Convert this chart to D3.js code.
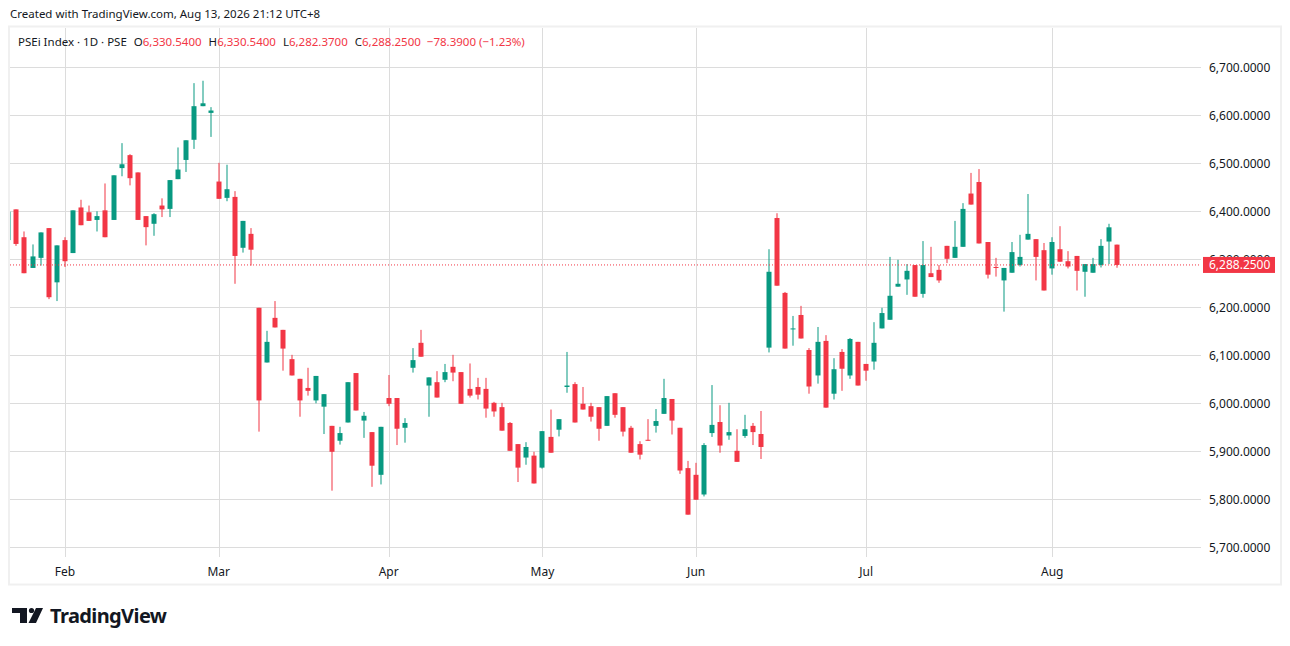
<!DOCTYPE html>
<html>
<head>
<meta charset="utf-8">
<script src="https://cdn.jsdelivr.net/npm/d3@7"></script>
<style>
  body { margin: 0; background: #fff; }
  text { font-family: "Noto Sans", "Liberation Sans", sans-serif; }
</style>
</head>
<body>
<div id="chart"></div>
<script>
// daily candles, PSEi, late Jan .. Aug 13
const opens = [6340, 6404, 6346, 6282, 6303, 6365, 6252, 6340, 6313, 6408, 6398, 6382, 6402, 6382, 6490, 6517, 6481, 6390, 6374, 6412,
  6405, 6467, 6507, 6549, 6619, 6605, 6462, 6428, 6430, 6324, 6353, 6199, 6085, 6178, 6153, 6092, 6051, 6032, 6006, 5993,
  5953, 5922, 5960, 6063, 5964, 5940, 5851, 6011, 6011, 5949, 6074, 6126, 6037, 6044, 6049, 6076, 6065, 6030, 6034, 6030,
  6001, 5992, 5959, 5915, 5887, 5891, 5866, 5930, 5945, 6034, 6040, 5999, 5994, 5992, 5953, 6021, 5992, 5949, 5915, 5924,
  5953, 5978, 6009, 5949, 5865, 5851, 5810, 5938, 5961, 5933, 5901, 5932, 5953, 5936, 6116, 6386, 6230, 6154, 6184, 6111,
  6058, 6130, 6020, 6107, 6058, 6128, 6082, 6087, 6156, 6174, 6243, 6258, 6288, 6228, 6271, 6278, 6328, 6303, 6326, 6437,
  6461, 6336, 6284, 6256, 6272, 6288, 6341, 6342, 6319, 6281, 6321, 6296, 6307, 6274, 6272, 6288, 6337, 6330.54];
const highs = [6400, 6404, 6358, 6331, 6356, 6365, 6329, 6346, 6402, 6424, 6412, 6400, 6458, 6475, 6542, 6519, 6481, 6390, 6396, 6427,
  6465, 6533, 6548, 6667, 6672, 6617, 6501, 6497, 6442, 6380, 6365, 6199, 6151, 6213, 6153, 6101, 6051, 6074, 6057, 6019,
  5953, 5951, 6044, 6063, 5982, 5940, 5951, 6059, 6011, 5969, 6115, 6153, 6054, 6067, 6082, 6101, 6065, 6083, 6053, 6053,
  6003, 6001, 5961, 5915, 5919, 5899, 5942, 5987, 5967, 6107, 6044, 6034, 6001, 5992, 6015, 6021, 5992, 5953, 5921, 5967,
  5988, 6051, 6009, 5949, 5880, 5876, 5917, 6038, 5996, 6001, 5946, 5976, 5959, 5984, 6321, 6396, 6232, 6182, 6203, 6115,
  6159, 6142, 6094, 6113, 6136, 6128, 6082, 6169, 6199, 6305, 6299, 6290, 6288, 6338, 6326, 6288, 6328, 6380, 6417, 6480,
  6488, 6336, 6303, 6282, 6336, 6351, 6436, 6342, 6334, 6346, 6369, 6317, 6307, 6290, 6303, 6342, 6374, 6330.54];
const lows = [6335, 6328, 6271, 6282, 6287, 6217, 6213, 6284, 6313, 6371, 6380, 6358, 6346, 6382, 6473, 6454, 6382, 6329, 6349, 6388,
  6388, 6467, 6482, 6530, 6619, 6555, 6426, 6421, 6249, 6314, 6287, 5941, 6085, 6158, 6068, 6058, 5972, 6016, 6000, 5936,
  5818, 5914, 5960, 5985, 5928, 5826, 5831, 5994, 5913, 5918, 6064, 6097, 5972, 6012, 6044, 6046, 5999, 6012, 6008, 5970,
  5972, 5943, 5901, 5836, 5872, 5833, 5864, 5897, 5931, 6022, 5960, 5987, 5962, 5922, 5953, 5970, 5931, 5897, 5883, 5922,
  5939, 5978, 5935, 5853, 5768, 5799, 5806, 5930, 5897, 5924, 5878, 5928, 5913, 5884, 6106, 6245, 6114, 6120, 6135, 6020,
  6041, 5991, 6008, 6026, 6051, 6037, 6047, 6070, 6156, 6174, 6243, 6226, 6222, 6220, 6263, 6251, 6292, 6303, 6326, 6414,
  6333, 6260, 6264, 6191, 6272, 6285, 6341, 6256, 6235, 6268, 6295, 6281, 6235, 6222, 6272, 6283, 6290, 6282.37];
const closes = [6399, 6332, 6271, 6306, 6356, 6221, 6329, 6296, 6402, 6371, 6380, 6390, 6346, 6475, 6498, 6469, 6382, 6367, 6394, 6404,
  6465, 6487, 6548, 6619, 6625, 6610, 6426, 6446, 6307, 6380, 6320, 6006, 6128, 6158, 6114, 6058, 6006, 6026, 6057, 6019,
  5899, 5938, 6044, 5985, 5974, 5870, 5951, 5999, 5947, 5959, 6090, 6097, 6054, 6012, 6065, 6064, 5999, 6016, 6018, 5989,
  5983, 5943, 5901, 5866, 5909, 5833, 5942, 5897, 5967, 6037, 5960, 5987, 5972, 5947, 6015, 5976, 5941, 5897, 5893, 5922,
  5963, 6011, 5964, 5860, 5768, 5799, 5913, 5955, 5912, 5940, 5878, 5946, 5940, 5909, 6274, 6245, 6114, 6156, 6135, 6035,
  6128, 5991, 6071, 6072, 6134, 6037, 6068, 6126, 6188, 6224, 6249, 6276, 6222, 6288, 6263, 6256, 6301, 6326, 6405, 6414,
  6333, 6268, 6283, 6282, 6315, 6305, 6353, 6305, 6235, 6336, 6295, 6285, 6276, 6290, 6290, 6328, 6366.64, 6288.25];

const monthLabels = ["Feb", "Mar", "Apr", "May", "Jun", "Jul", "Aug"];
const monthIdx = [7, 26, 47, 66, 85, 106, 129];
const priceTicks = [5700, 5800, 5900, 6000, 6100, 6200, 6300, 6400, 6500, 6600, 6700];

const W = 1290, H = 646;
const up = "#089981", down = "#f23645", ink = "#131722", grid = "#dcdcdc";
const plot = { left: 10, right: 1200, top: 28, bottom: 557 };

const svg = d3.select("#chart").append("svg")
  .attr("width", W)
  .attr("height", H);

const x = d3.scaleLinear().domain([0, 137]).range([8.3, 1117]);
const y = d3.scaleLinear().domain([5700, 6700]).range([547.3, 67.3]);
const fmt = d3.format(",.4f");

// title line
svg.append("text")
  .attr("x", 10).attr("y", 18)
  .attr("font-size", 11.5).attr("fill", ink)
  .text("Created with TradingView.com, Aug 13, 2026 21:12 UTC+8");

// frame
svg.append("rect")
  .attr("x", 9).attr("y", 26.5)
  .attr("width", 1272).attr("height", 558)
  .attr("fill", "#fff")
  .attr("stroke", "#f0f0f0").attr("stroke-width", 2);

// grid
svg.append("g").selectAll("line")
  .data(priceTicks)
  .join("line")
  .attr("x1", plot.left).attr("x2", plot.right + 1)
  .attr("y1", d => Math.round(y(d)) + 0.5).attr("y2", d => Math.round(y(d)) + 0.5)
  .attr("stroke", grid);

svg.append("g").selectAll("line")
  .data(monthIdx)
  .join("line")
  .attr("x1", d => Math.round(x(d)) + 0.5).attr("x2", d => Math.round(x(d)) + 0.5)
  .attr("y1", plot.top).attr("y2", plot.bottom)
  .attr("stroke", grid);

// price axis
svg.append("g").selectAll("text")
  .data(priceTicks)
  .join("text")
  .attr("x", 1209).attr("y", d => y(d))
  .attr("dy", "0.35em")
  .attr("font-size", 12).attr("fill", ink)
  .text(d => fmt(d));

// time axis
svg.append("g").selectAll("text")
  .data(monthIdx)
  .join("text")
  .attr("x", d => x(d)).attr("y", 576)
  .attr("text-anchor", "middle")
  .attr("font-size", 12).attr("fill", ink)
  .text((d, i) => monthLabels[i]);

// candles
svg.append("clipPath").attr("id", "clip")
  .append("rect")
  .attr("x", plot.left).attr("y", plot.top)
  .attr("width", plot.right - plot.left).attr("height", plot.bottom - plot.top);

const candles = d3.range(closes.length).map(i => ({
  i, o: opens[i], h: highs[i], l: lows[i], c: closes[i]
}));

const cg = svg.append("g").attr("clip-path", "url(#clip)");

const node = cg.selectAll(".candle")
  .data(candles)
  .join("g")
  .attr("class", "candle")
  .attr("fill", d => d.c >= d.o ? up : down);

node.append("rect")
  .attr("x", d => Math.round(x(d.i)) - 0.5)
  .attr("width", 1)
  .attr("y", d => y(d.h))
  .attr("height", d => Math.max(1, y(d.l) - y(d.h)));

node.append("rect")
  .attr("x", d => Math.round(x(d.i)) - 2.5)
  .attr("width", 5)
  .attr("y", d => y(Math.max(d.o, d.c)))
  .attr("height", d => Math.max(1, Math.abs(y(d.o) - y(d.c))));

// last price line + label
const last = closes[closes.length - 1];
svg.append("line")
  .attr("x1", plot.left).attr("x2", plot.right)
  .attr("y1", y(last)).attr("y2", y(last))
  .attr("stroke", down)
  .attr("stroke-dasharray", "1,2");

svg.append("rect")
  .attr("x", 1203).attr("y", y(last) - 8)
  .attr("width", 72).attr("height", 16)
  .attr("fill", down);

svg.append("text")
  .attr("x", 1209).attr("y", y(last))
  .attr("dy", "0.35em")
  .attr("font-size", 12).attr("fill", "#fff")
  .text(fmt(last));

// legend
const lg = svg.append("text")
  .attr("x", 18).attr("y", 46)
  .attr("font-size", 11.5).attr("fill", ink);
lg.append("tspan").text("PSEi Index · 1D · PSE");
const ohlc = [["O", opens], ["H", highs], ["L", lows], ["C", closes]];
ohlc.forEach(([k, arr]) => {
  lg.append("tspan").attr("dx", 7).text(k);
  lg.append("tspan").attr("fill", down).text(fmt(arr[arr.length - 1]));
});
const chg = last - closes[closes.length - 2];
lg.append("tspan").attr("dx", 6).attr("fill", down)
  .text(fmt(chg).replace("-", "\u2212") + " (" + d3.format(".2%")(chg / closes[closes.length - 2]).replace("-", "\u2212") + ")");

// logo
const logo = svg.append("g").attr("fill", ink);
logo.append("path").attr("d", "M12,608H27V623H20V613H12Z");
logo.append("circle").attr("cx", 31.5).attr("cy", 610.5).attr("r", 2.6);
logo.append("path").attr("d", "M36,608H43L36,623H28.5Z");
logo.append("text")
  .attr("x", 50).attr("y", 623)
  .attr("font-family", "Inter, Roboto, sans-serif")
  .attr("font-weight", 700).attr("font-size", 20)
  .attr("letter-spacing", -0.6)
  .text("TradingView");
</script>
</body>
</html>
